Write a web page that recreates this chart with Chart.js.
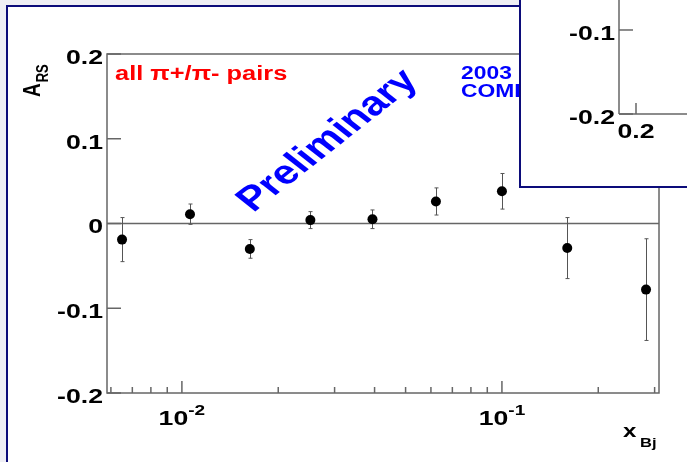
<!DOCTYPE html>
<html>
<head>
<meta charset="utf-8">
<script src="https://cdn.jsdelivr.net/npm/chart.js@4.4.1/dist/chart.umd.min.js"></script>
<style>
  html, body { margin: 0; padding: 0; background: #efeff5; }
  #wrap { position: relative; width: 687px; height: 462px; overflow: hidden; }
  #main { position: absolute; left: 0; top: 0; }
  #inset { position: absolute; left: 519px; top: 0; }
</style>
</head>
<body>
<div id="wrap">
  <canvas id="main" width="687" height="462"></canvas>
  <canvas id="inset" width="168" height="188"></canvas>
</div>
<script>
// x_Bj bins, asymmetry and stat. errors
const xBj  = [0.0065, 0.0106, 0.0163, 0.0252, 0.0394, 0.0622, 0.100, 0.160, 0.282];
const aRS  = [-0.019, 0.011, -0.030, 0.004, 0.005, 0.026, 0.038, -0.029, -0.078];
const aErr = [0.026, 0.012, 0.011, 0.010, 0.011, 0.016, 0.021, 0.036, 0.060];

// axis ticks
const yTicks = [-0.2, -0.1, 0, 0.1, 0.2];
const xMajorTicks = [0.01, 0.1];
const xMinorTicks = [0.006, 0.007, 0.008, 0.009, 0.02, 0.03, 0.04, 0.05, 0.06, 0.07, 0.08, 0.09, 0.2, 0.3];

// the partly hidden inset plot
const insetYTicks = [-0.1, -0.2];
const insetXTicks = [0.2];

const SX = 1.27;          // the original is stretched horizontally
const FONT = '"Liberation Sans", Arial, sans-serif';
const AXIS = '#666';
const NAVY = '#0c0c7a';

function txt(ctx, s, x, y, size, color, align, base, rot) {
  ctx.save();
  ctx.translate(x, y);
  ctx.scale(SX, 1);
  if (rot) ctx.rotate(rot);
  ctx.font = 'bold ' + size + 'px ' + FONT;
  ctx.fillStyle = color;
  ctx.textAlign = align || 'left';
  ctx.textBaseline = base || 'alphabetic';
  ctx.fillText(s, 0, 0);
  ctx.restore();
}
function textW(ctx, s, size) {
  ctx.save();
  ctx.font = 'bold ' + size + 'px ' + FONT;
  const w = ctx.measureText(s).width * SX;
  ctx.restore();
  return w;
}
function line(ctx, x1, y1, x2, y2) {
  ctx.beginPath(); ctx.moveTo(x1, y1); ctx.lineTo(x2, y2); ctx.stroke();
}

const mainPlugin = {
  id: 'rootStyle',
  beforeDraw(chart) {
    const ctx = chart.ctx;
    ctx.save();
    ctx.fillStyle = '#efeff5';
    ctx.fillRect(0, 0, chart.width, chart.height);
    ctx.fillStyle = '#fff';
    ctx.fillRect(7, 6, chart.width, chart.height);
    ctx.strokeStyle = NAVY; ctx.lineWidth = 2;
    ctx.beginPath(); ctx.moveTo(7, chart.height); ctx.lineTo(7, 6); ctx.lineTo(chart.width, 6); ctx.stroke();
    ctx.restore();
  },
  beforeDatasetsDraw(chart) {
    const ctx = chart.ctx, a = chart.chartArea;
    const xs = chart.scales.x, ys = chart.scales.y;
    ctx.save();
    ctx.strokeStyle = AXIS; ctx.lineWidth = 1.5;
    ctx.strokeRect(a.left, a.top, a.right - a.left, a.bottom - a.top);
    line(ctx, a.left, ys.getPixelForValue(0), a.right, ys.getPixelForValue(0));
    yTicks.forEach(v => {
      const py = ys.getPixelForValue(v);
      line(ctx, a.left, py, a.left + 14, py);
    });
    xMajorTicks.forEach(v => {
      const px = xs.getPixelForValue(v);
      line(ctx, px, a.bottom, px, a.bottom - 12);
    });
    xMinorTicks.forEach(v => {
      const px = xs.getPixelForValue(v);
      line(ctx, px, a.bottom, px, a.bottom - 6);
    });
    // error bars
    ctx.strokeStyle = '#555'; ctx.lineWidth = 1;
    xBj.forEach((x, i) => {
      const px = Math.round(xs.getPixelForValue(x)) + 0.5;
      const t = ys.getPixelForValue(aRS[i] + aErr[i]);
      const b = ys.getPixelForValue(aRS[i] - aErr[i]);
      line(ctx, px, t, px, b);
      line(ctx, px - 2, t, px + 2, t);
      line(ctx, px - 2, b, px + 2, b);
    });
    ctx.restore();
  },
  afterDraw(chart) {
    const ctx = chart.ctx, a = chart.chartArea;
    const xs = chart.scales.x, ys = chart.scales.y;
    yTicks.forEach(v => {
      txt(ctx, String(v), a.left - 4, ys.getPixelForValue(v) + 4, 21, '#000', 'right', 'middle');
    });
    xMajorTicks.forEach(v => {
      const px = xs.getPixelForValue(v);
      const ex = String(Math.round(Math.log10(v)));
      const w1 = textW(ctx, '10', 21), w2 = textW(ctx, ex, 15);
      const x0 = px - (w1 + w2) / 2;
      txt(ctx, '10', x0, 425, 21, '#000');
      txt(ctx, ex, x0 + w1, 415, 15, '#000');
    });
    // axis titles
    const wA = textW(ctx, 'A', 19) / SX;
    txt(ctx, 'A', 40, 97, 19, '#000', 'left', 'alphabetic', -Math.PI / 2);
    txt(ctx, 'RS', 48, 97 - wA - 1, 13, '#000', 'left', 'alphabetic', -Math.PI / 2);
    txt(ctx, 'x', 623, 437, 19, '#000');
    txt(ctx, 'Bj', 640, 447, 13, '#000');
    // annotations
    txt(ctx, 'all \u03c0+/\u03c0- pairs', 115, 80, 20, '#ff0000');
    txt(ctx, '2003 data', 461, 79, 18, '#0000ff');
    txt(ctx, 'COMPASS', 461, 97, 18, '#0000ff');
    txt(ctx, 'Preliminary', 328, 141, 34, '#0000ff', 'center', 'middle', -Math.PI / 4);
  }
};

new Chart(document.getElementById('main'), {
  type: 'scatter',
  data: {
    datasets: [{
      data: xBj.map((x, i) => ({ x: x, y: aRS[i] })),
      pointRadius: 5,
      pointBackgroundColor: '#000',
      pointBorderColor: '#000',
      pointBorderWidth: 0,
      showLine: false
    }]
  },
  options: {
    responsive: false,
    animation: false,
    devicePixelRatio: 1,
    layout: { padding: { left: 107, top: 54, right: 28, bottom: 69 } },
    plugins: { legend: { display: false }, tooltip: { enabled: false } },
    scales: {
      x: { type: 'logarithmic', min: 0.005834, max: 0.3096, display: false },
      y: { min: -0.2, max: 0.2, display: false }
    }
  },
  plugins: [mainPlugin]
});

// inset panel (only its lower-left corner is visible)
const insetPlugin = {
  id: 'insetStyle',
  beforeDraw(chart) {
    const ctx = chart.ctx;
    ctx.save();
    ctx.fillStyle = '#fff';
    ctx.fillRect(0, 0, chart.width, chart.height);
    ctx.strokeStyle = NAVY; ctx.lineWidth = 2;
    ctx.beginPath(); ctx.moveTo(1, 0); ctx.lineTo(1, 187); ctx.lineTo(chart.width, 187); ctx.stroke();
    ctx.restore();
  },
  afterDraw(chart) {
    const ctx = chart.ctx, a = chart.chartArea;
    const xs = chart.scales.x, ys = chart.scales.y;
    ctx.save();
    ctx.strokeStyle = AXIS; ctx.lineWidth = 1.5;
    line(ctx, a.left, 0, a.left, a.bottom);
    line(ctx, a.left, a.bottom, a.right, a.bottom);
    insetYTicks.forEach(v => {
      const py = ys.getPixelForValue(v);
      line(ctx, a.left, py, a.left + 14, py);
      txt(ctx, String(v), a.left - 4, py + 4, 21, '#000', 'right', 'middle');
    });
    insetXTicks.forEach(v => {
      const px = xs.getPixelForValue(v);
      line(ctx, px, a.bottom, px, a.bottom - 11);
      txt(ctx, String(v), px, 138, 21, '#000', 'center');
    });
    ctx.restore();
  }
};

new Chart(document.getElementById('inset'), {
  type: 'scatter',
  data: { datasets: [{ data: [] }] },
  options: {
    responsive: false,
    animation: false,
    devicePixelRatio: 1,
    layout: { padding: { left: 100, top: 0, right: 0, bottom: 74 } },
    plugins: { legend: { display: false }, tooltip: { enabled: false } },
    scales: {
      x: { type: 'linear', min: 0.19, max: 0.23, display: false },
      y: { min: -0.2, max: -0.0643, display: false }
    }
  },
  plugins: [insetPlugin]
});
</script>
</body>
</html>
